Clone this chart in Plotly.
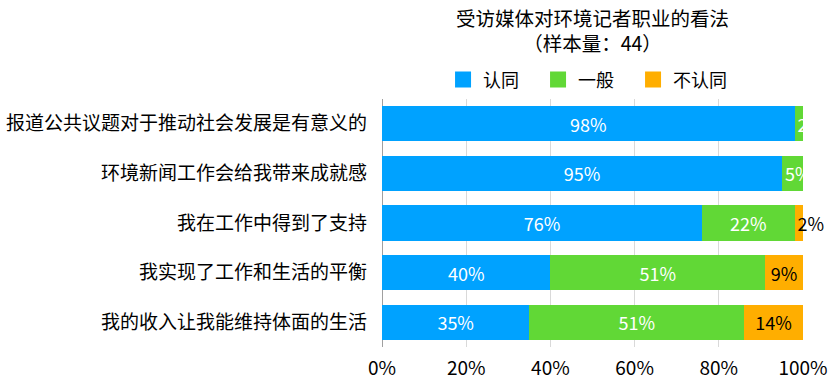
import plotly.graph_objects as go

categories = ["报道公共议题对于推动社会发展是有意义的", "环境新闻工作会给我带来成就感",
              "我在工作中得到了支持", "我实现了工作和生活的平衡", "我的收入让我能维持体面的生活"]
agree = [98, 95, 76, 40, 35]
neutral = [2, 5, 22, 51, 51]
disagree = [0, 0, 2, 9, 14]
series_names = ["认同", "一般", "不认同"]
colors = ["#00A2FF", "#61D836", "#FFAE00"]
tick_vals = [0, 20, 40, 60, 80, 100]
tick_text = ["0%", "20%", "40%", "60%", "80%", "100%"]
title_lines = ["受访媒体对环境记者职业的看法", "（样本量：44）"]

FONT = "Noto Sans CJK SC, Helvetica, Arial, sans-serif"
SMALL = 6  # segments narrower than this (in %) get their label anchored at the segment start

fig = go.Figure()


def add_segment(vals, color, txtcolor, name, small, clip):
    v = [x if ((x < SMALL) == small) else 0 for x in vals]
    fig.add_trace(go.Bar(
        y=categories, x=v, orientation="h", name=name, showlegend=False,
        marker=dict(color=color, line=dict(width=0)),
        text=[f"{x}%" if x > 0 else "" for x in v],
        textposition="inside", textangle=0,
        insidetextanchor="start" if small else "middle",
        textfont=dict(color=txtcolor, size=18, family=FONT), constraintext="none",
        cliponaxis=clip, hoverinfo="x+name",
    ))


add_segment(agree, colors[0], "white", series_names[0], False, True)
add_segment(neutral, colors[1], "white", series_names[1], True, True)
add_segment(neutral, colors[1], "white", series_names[1], False, True)
add_segment(disagree, colors[2], "black", series_names[2], True, False)
add_segment(disagree, colors[2], "black", series_names[2], False, True)

# legend entries
for nm, c in zip(series_names, colors):
    fig.add_trace(go.Scatter(x=[None], y=[None], mode="markers", name=nm,
                             marker=dict(symbol="square", size=18, color=c),
                             showlegend=True, hoverinfo="skip"))

fig.update_layout(
    barmode="stack",
    bargap=0.29,
    width=830, height=380,
    margin=dict(l=382, r=27, t=99, b=33, autoexpand=False),
    paper_bgcolor="white", plot_bgcolor="white",
    font=dict(family=FONT, color="black"),
    legend=dict(orientation="h", x=0.145, xanchor="left",
                yref="container", y=0.79, yanchor="middle",
                font=dict(size=18, family=FONT), traceorder="normal",
                entrywidth=50, entrywidthmode="pixels",
                bgcolor="rgba(0,0,0,0)", itemsizing="trace"),
    showlegend=True,
    annotations=[
        dict(text="<br>".join(title_lines), x=0.5, xref="paper", y=1.2782, yref="paper",
             xanchor="center", yanchor="middle", showarrow=False, align="center",
             font=dict(size=19.5, color="black", family=FONT)),
    ],
)
fig.update_xaxes(range=[0, 100], tickvals=tick_vals, ticktext=tick_text,
                 showgrid=True, gridcolor="#D9D9D9", gridwidth=1,
                 zeroline=True, zerolinecolor="#A0A0A0", zerolinewidth=1,
                 tickfont=dict(size=19, family=FONT), ticks="", fixedrange=True,
                 ticklabelstandoff=8, automargin=False)
fig.update_yaxes(autorange="reversed", tickfont=dict(size=19, family=FONT, color="black"),
                 ticks="", ticklabelstandoff=14, showgrid=False, automargin=False)

fig.write_html("out.html", config={"displayModeBar": False},
               post_script="document.body.style.margin='0';")
